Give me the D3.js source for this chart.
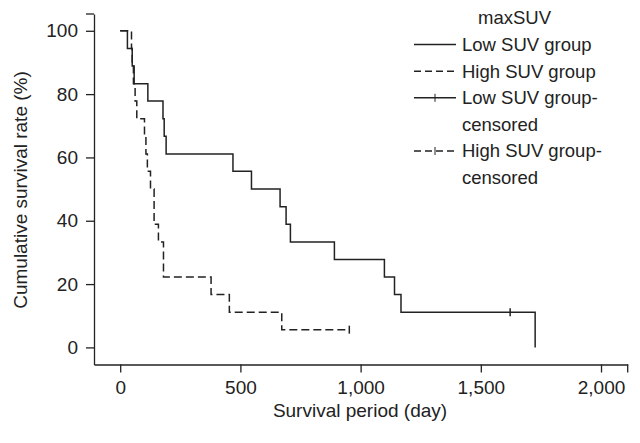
<!DOCTYPE html>
<html lang="en">
<head>
    <meta charset="UTF-8">
    <title>Survival by maxSUV</title>
    <script src="https://d3js.org/d3.v7.min.js"></script>
    <style>
        body {
            margin: 0;
            background-color: #ffffff;
        }
        svg text {
            font-family: 'Liberation Sans', Arial, sans-serif;
            fill: #222;
        }
        .axis path, .axis line {
            stroke: #222;
            stroke-width: 1.3px;
        }
        .km {
            fill: none;
            stroke: #222;
            stroke-width: 1.5px;
        }
    </style>
</head>
<body>
    <div id="chart"></div>
    <script>
        // Low SUV group: event times (day) and survival (%) after each event
        const lowDays = [0, 30, 50, 58, 115, 178, 183, 191, 469, 546, 665, 690, 708, 891, 1099, 1141, 1168, 1726];
        const lowSurv = [100, 94.4, 88.9, 83.3, 77.8, 72.2, 66.7, 61.1, 55.6, 50.0, 44.4, 38.9, 33.3, 27.8, 22.2, 16.7, 11.1, 0];
        const lowCensorDays = [1622];
        const lowCensorSurv = [11.1];

        // High SUV group
        const highDays = [0, 47, 50, 55, 62, 69, 101, 107, 113, 126, 141, 159, 180, 378, 454, 672];
        const highSurv = [100, 94.4, 88.9, 83.3, 77.8, 72.2, 66.7, 61.1, 55.6, 50.0, 38.9, 33.3, 22.2, 16.7, 11.1, 5.6];
        const highCensorDays = [953];
        const highCensorSurv = [5.6];

        const xTicks = [0, 500, 1000, 1500, 2000];
        const yTicks = [0, 20, 40, 60, 80, 100];
        const legendItems = ["Low SUV group", "High SUV group", "Low SUV group-", "High SUV group-"];

        const width = 640, height = 443;
        const fontSize = 19;
        const legendFont = 18.5;

        const svg = d3.select("#chart")
            .append("svg")
            .attr("width", width)
            .attr("height", height);

        const x = d3.scaleLinear().domain([-109, 2111]).range([94, 627.7]);
        const y = d3.scaleLinear().domain([-5.4, 105.3]).range([364.5, 14]);

        // axes
        const xAxis = svg.append("g")
            .attr("class", "axis")
            .attr("transform", `translate(0,${y(-5.4)})`)
            .call(d3.axisBottom(x).tickValues(xTicks).tickSize(8).tickSizeOuter(0).tickPadding(8)
                .tickFormat(d3.format(",")));
        xAxis.selectAll("text").style("font-size", fontSize + "px");
        xAxis.append("line")
            .attr("x1", x(2111)).attr("x2", x(2111))
            .attr("y1", 0).attr("y2", 8);

        const yAxis = svg.append("g")
            .attr("class", "axis")
            .attr("transform", `translate(${x(-109)},0)`)
            .call(d3.axisLeft(y).tickValues(yTicks).tickSize(8).tickSizeOuter(0).tickPadding(8));
        yAxis.selectAll("text").style("font-size", fontSize + "px");
        yAxis.append("line")
            .attr("x1", -8).attr("x2", 0)
            .attr("y1", y(105.3)).attr("y2", y(105.3));

        // axis titles
        svg.append("text")
            .attr("x", 360)
            .attr("y", 417)
            .attr("text-anchor", "middle")
            .style("font-size", fontSize + "px")
            .text("Survival period (day)");

        svg.append("text")
            .attr("transform", "translate(27,190) rotate(-90)")
            .attr("text-anchor", "middle")
            .style("font-size", fontSize + "px")
            .text("Cumulative survival rate (%)");

        // step curves
        const step = d3.line()
            .x(d => x(d[0]))
            .y(d => y(d[1]))
            .curve(d3.curveStepAfter);

        const lowPts = lowDays.map((d, i) => [d, lowSurv[i]]);
        const highPts = highDays.map((d, i) => [d, highSurv[i]]);
        highPts.push([highCensorDays[0], highCensorSurv[0]]);

        svg.append("path")
            .datum(lowPts)
            .attr("class", "km")
            .attr("d", step);

        svg.append("path")
            .datum(highPts)
            .attr("class", "km")
            .attr("stroke-dasharray", "8,4")
            .attr("d", step);

        // censor marks
        const censors = lowCensorDays.map((d, i) => [d, lowCensorSurv[i]])
            .concat(highCensorDays.map((d, i) => [d, highCensorSurv[i]]));
        svg.selectAll(".censor")
            .data(censors)
            .join("line")
            .attr("class", "km censor")
            .attr("x1", d => x(d[0])).attr("x2", d => x(d[0]))
            .attr("y1", d => y(d[1]) - 4).attr("y2", d => y(d[1]) + 4);

        // legend
        const lg = svg.append("g").attr("transform", "translate(414,0)");
        const rowH = 26.6;
        const legendTop = 18;
        lg.append("text")
            .attr("x", 64).attr("y", legendTop)
            .attr("dy", "0.35em")
            .style("font-size", legendFont + "px")
            .text("maxSUV");

        const rows = [
            { label: legendItems[0], row: 1, dash: null, tick: false },
            { label: legendItems[1], row: 2, dash: "7,4", tick: false },
            { label: legendItems[2], row: 3, dash: null, tick: true },
            { label: legendItems[3], row: 5, dash: "7,4", tick: true }
        ];
        rows.forEach(r => {
            const cy = legendTop + r.row * rowH;
            lg.append("line")
                .attr("class", "km")
                .attr("x1", 0).attr("x2", 42)
                .attr("y1", cy).attr("y2", cy)
                .attr("stroke-dasharray", r.dash);
            if (r.tick) {
                lg.append("line")
                    .attr("class", "km")
                    .style("stroke-width", "1px")
                    .attr("x1", 21).attr("x2", 21)
                    .attr("y1", cy - 4).attr("y2", cy + 4);
            }
            lg.append("text")
                .attr("x", 48).attr("y", cy)
                .attr("dy", "0.35em")
                .style("font-size", legendFont + "px")
                .text(r.label);
            if (r.tick) {
                lg.append("text")
                    .attr("x", 48).attr("y", cy + rowH)
                    .attr("dy", "0.35em")
                    .style("font-size", legendFont + "px")
                    .text("censored");
            }
        });
    </script>
</body>
</html>
